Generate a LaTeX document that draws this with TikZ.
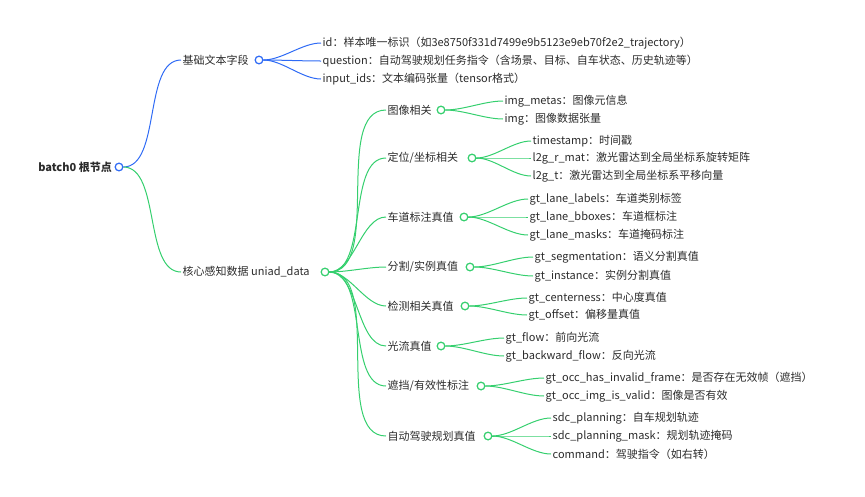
\documentclass[tikz,border=0pt]{standalone}
\usepackage{fontspec}
\setmainfont{Noto Sans CJK SC}
\usetikzlibrary{positioning}
\definecolor{mapblue}{HTML}{2F6BF5}
\definecolor{mapgreen}{HTML}{35CF6E}
\definecolor{maptext}{HTML}{2B2B2B}

\begin{document}
\begin{tikzpicture}[x=1pt,y=-1pt,font=\fontsize{11}{13}\selectfont,text=maptext,
    styleText/.style={anchor=west, inner sep=1.5pt},
    styleKnob/.style={circle, draw=#1, fill=white, line width=1.1pt, minimum size=7.5pt, inner sep=0pt},
    styleLink/.style={draw=#1, line width=1pt, out=0, in=180, looseness=0.8},
  ]
    \useasboundingbox (0,0) rectangle (865,496);
    % root
    \node(root)[anchor=east, inner sep=1pt, font=\fontsize{11}{13}\selectfont\bfseries] at (113,167) {batch0 根节点};
    \node(kroot)[styleKnob=mapblue] at (119,167) {};

    % first level
    \node(txt)[styleText] at (181,60) {基础文本字段};
    \node(ktxt)[styleKnob=mapblue] at (259,60) {};
    \node(uni)[styleText] at (181,272) {核心感知数据 uniad\_data};
    \node(kuni)[styleKnob=mapgreen] at (325,272) {};

    \node(id)[styleText] at (321,43) {id：样本唯一标识（如3e8750f331d7499e9b5123e9eb70f2e2\_trajectory）};
    \node(qu)[styleText] at (321,61) {question：自动驾驶规划任务指令（含场景、目标、自车状态、历史轨迹等）};
    \node(ids)[styleText] at (321,79) {input\_ids：文本编码张量（tensor格式）};

    % second level
    \node(img)[styleText] at (386,110) {图像相关};
    \node(kimg)[styleKnob=mapgreen] at (441,110) {};
    \node(loc)[styleText] at (386,158) {定位/坐标相关};
    \node(kloc)[styleKnob=mapgreen] at (472,158) {};
    \node(lane)[styleText] at (386,217) {车道标注真值};
    \node(klane)[styleKnob=mapgreen] at (464,217) {};
    \node(seg)[styleText] at (386,267) {分割/实例真值};
    \node(kseg)[styleKnob=mapgreen] at (470,267) {};
    \node(det)[styleText] at (386,306) {检测相关真值};
    \node(kdet)[styleKnob=mapgreen] at (465,306) {};
    \node(flow)[styleText] at (386,346) {光流真值};
    \node(kflow)[styleKnob=mapgreen] at (441,346) {};
    \node(occ)[styleText] at (386,386) {遮挡/有效性标注};
    \node(kocc)[styleKnob=mapgreen] at (481,386) {};
    \node(plan)[styleText] at (386,436) {自动驾驶规划真值};
    \node(kplan)[styleKnob=mapgreen] at (488,436) {};

    % leaves
    \node(meta)[styleText] at (503,101) {img\_metas：图像元信息};
    \node(imgt)[styleText] at (503,119) {img：图像数据张量};
    \node(ts)[styleText] at (531,141) {timestamp：时间戳};
    \node(rmat)[styleText] at (531,158) {l2g\_r\_mat：激光雷达到全局坐标系旋转矩阵};
    \node(tvec)[styleText] at (531,176) {l2g\_t：激光雷达到全局坐标系平移向量};
    \node(lab)[styleText] at (528,199) {gt\_lane\_labels：车道类别标签};
    \node(box)[styleText] at (528,217) {gt\_lane\_bboxes：车道框标注};
    \node(msk)[styleText] at (528,235) {gt\_lane\_masks：车道掩码标注};
    \node(sgm)[styleText] at (533,257) {gt\_segmentation：语义分割真值};
    \node(ins)[styleText] at (533,276) {gt\_instance：实例分割真值};
    \node(cen)[styleText] at (527,298) {gt\_centerness：中心度真值};
    \node(off)[styleText] at (527,315) {gt\_offset：偏移量真值};
    \node(fwd)[styleText] at (504,338) {gt\_flow：前向光流};
    \node(bwd)[styleText] at (504,356) {gt\_backward\_flow：反向光流};
    \node(inv)[styleText] at (544,378) {gt\_occ\_has\_invalid\_frame：是否存在无效帧（遮挡）};
    \node(val)[styleText] at (544,396) {gt\_occ\_img\_is\_valid：图像是否有效};
    \node(sdc)[styleText] at (551,418) {sdc\_planning：自车规划轨迹};
    \node(sdcm)[styleText] at (551,436) {sdc\_planning\_mask：规划轨迹掩码};
    \node(cmd)[styleText] at (551,454) {command：驾驶指令（如右转）};

    \begin{scope}[on background layer/.style={}]
      \path[styleLink=mapblue]
        (kroot) edge (txt.west)
        (ktxt) edge (id.west)
        (ktxt) edge (qu.west)
        (ktxt) edge (ids.west);
      \path[styleLink=mapgreen]
        (kroot) edge (uni.west)
        (kuni) edge (img.west)
        (kuni) edge (loc.west)
        (kuni) edge (lane.west)
        (kuni) edge (seg.west)
        (kuni) edge (det.west)
        (kuni) edge (flow.west)
        (kuni) edge (occ.west)
        (kuni) edge (plan.west)

        (kimg) edge (meta.west)
        (kimg) edge (imgt.west)
        (kloc) edge (ts.west)
        (kloc) edge (rmat.west)
        (kloc) edge (tvec.west)
        (klane) edge (lab.west)
        (klane) edge (box.west)
        (klane) edge (msk.west)
        (kseg) edge (sgm.west)
        (kseg) edge (ins.west)
        (kdet) edge (cen.west)
        (kdet) edge (off.west)
        (kflow) edge (fwd.west)
        (kflow) edge (bwd.west)
        (kocc) edge (inv.west)
        (kocc) edge (val.west)
        (kplan) edge (sdc.west)
        (kplan) edge (sdcm.west)
        (kplan) edge (cmd.west);
    \end{scope}
    % knobs again on top of the links
    \foreach \k/\c in {kroot/mapblue,ktxt/mapblue,kuni/mapgreen,kimg/mapgreen,kloc/mapgreen,klane/mapgreen,kseg/mapgreen,kdet/mapgreen,kflow/mapgreen,kocc/mapgreen,kplan/mapgreen}
      \draw[\c, fill=white, line width=1.1pt] (\k) circle (3.75pt);
\end{tikzpicture}
\end{document}
